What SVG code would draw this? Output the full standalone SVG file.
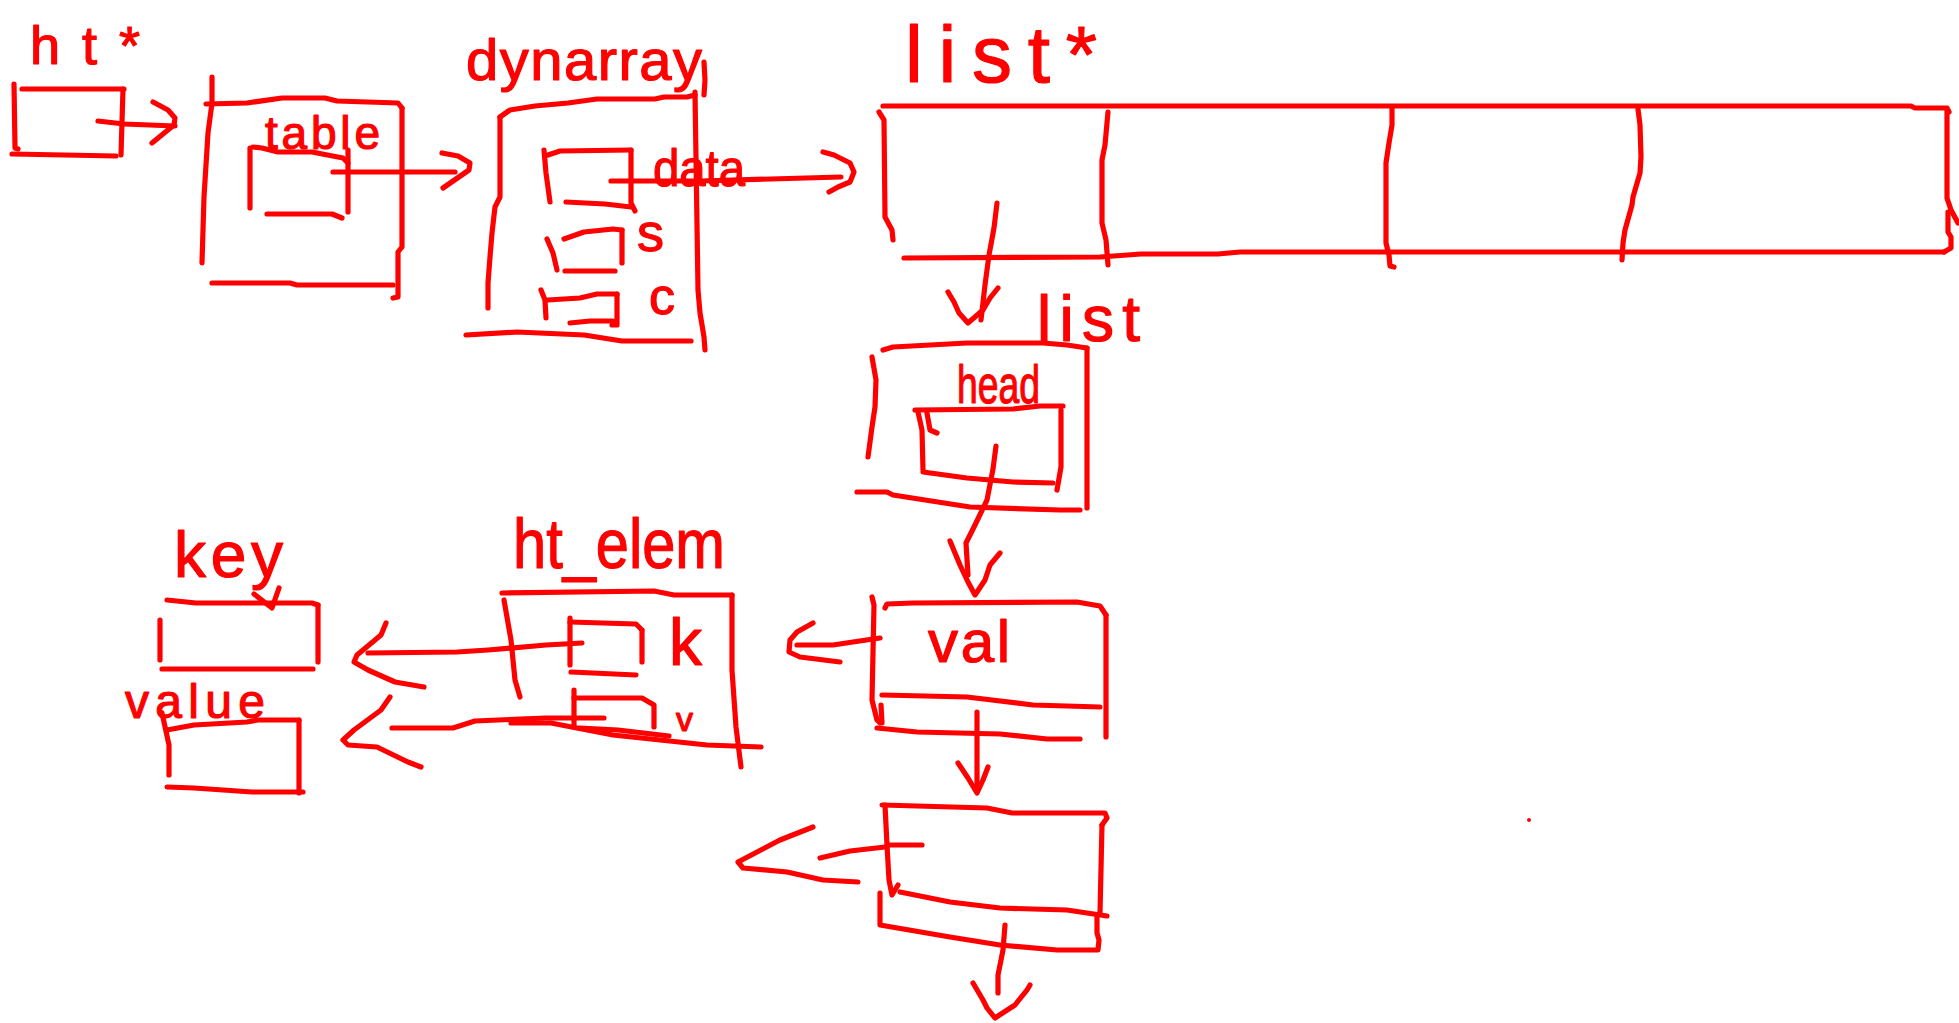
<svg xmlns="http://www.w3.org/2000/svg" width="1959" height="1023" viewBox="0 0 1959 1023">
<style>
.s{fill:none;stroke:#ff0000;stroke-width:5.2;stroke-linecap:round;stroke-linejoin:round}
.t{fill:#ff0000;font-family:"Liberation Sans",Arial,sans-serif;stroke:#ff0000;stroke-width:1.2;stroke-linejoin:round}
</style>
<rect width="1959" height="1023" fill="#ffffff"/>
<g id="ht_ptr">
<text class="t" x="30" y="64" font-size="54" textLength="110" lengthAdjust="spacing">ht*</text>
<path class="s" d="M14 84 L15 148 L18 149"/>
<path class="s" d="M22 89 L124 89"/>
<path class="s" d="M123 89 L121 155"/>
<path class="s" d="M12 154 L116 156"/>
</g>
<g id="table">
<text class="t" x="265" y="149" font-size="46" textLength="115" lengthAdjust="spacing">table</text>
<path class="s" d="M212 77 L212 103 L208 133 L204 197 L202 263"/>
<path class="s" d="M206 104 L247 103 L282 98 L325 98 L337 101 L398 103 L402 108"/>
<path class="s" d="M402 108 L402 247 L398 252 L398 297 L393 298"/>
<path class="s" d="M212 283 L290 283 L297 285 L393 285"/>
<path class="s" d="M250 148 L250 208"/>
<path class="s" d="M253 147 L262 148 L278 152 L312 152 L343 158 L348 163"/>
<path class="s" d="M348 150 L348 212"/>
<path class="s" d="M267 214 L332 214 L342 218"/>
</g>
<g id="dynarray">
<text class="t" x="466" y="80" font-size="58" textLength="236" lengthAdjust="spacing">dynarray</text>
<path class="s" d="M704 62 L705 80 L704 95"/>
<path class="s" d="M500 117 L500 197 L495 207 L492 233 L490 257 L488 283 L488 308"/>
<path class="s" d="M500 117 L510 110 L535 106 L568 103 L597 99 L655 99 L664 97 L687 97 L695 95"/>
<path class="s" d="M695 92 L698 290 L700 313 L704 337 L705 350"/>
<path class="s" d="M466 335 L517 332 L584 335 L622 341 L691 341"/>
<path class="s" d="M544 150 L546 173 L550 202"/>
<path class="s" d="M548 155 L560 151 L631 150"/>
<path class="s" d="M631 150 L631 203 L635 211"/>
<path class="s" d="M566 202 L605 204 L631 207"/>
<text class="t" x="653" y="186" font-size="52" textLength="92" lengthAdjust="spacingAndGlyphs">data</text>
<path class="s" d="M564 239 L584 232 L613 229 L622 230"/>
<path class="s" d="M622 230 L622 263"/>
<path class="s" d="M565 271 L615 271"/>
<path class="s" d="M547 239 L553 253 L557 270"/>
<text class="t" x="637" y="251" font-size="54">s</text>
<path class="s" d="M541 290 L545 300 L546 318"/>
<path class="s" d="M548 300 L580 298 L597 294 L617 294"/>
<path class="s" d="M617 294 L617 325 L612 325"/>
<path class="s" d="M570 323 L590 321 L613 321"/>
<text class="t" x="649" y="314" font-size="52">c</text>
</g>
<g id="list_array">
<text class="t" x="905" y="82" font-size="80" textLength="192" lengthAdjust="spacing">list*</text>
<path class="s" d="M883 106 L1911 106 L1915 108 L1947 108 L1949 112"/>
<path class="s" d="M1947 110 L1947 198 L1951 210 L1958 223"/>
<path class="s" d="M1948 212 L1948 232 L1951 237 L1951 248 L1944 252"/>
<path class="s" d="M904 258 L1100 257 L1141 254 L1218 254 L1240 252 L1944 252"/>
<path class="s" d="M879 112 L884 120 L885 217 L892 230 L893 240"/>
<path class="s" d="M1108 112 L1105 145 L1102 160 L1102 223 L1106 240 L1108 265"/>
<path class="s" d="M1392 107 L1392 125 L1389 143 L1386 163 L1386 243 L1389 255 L1390 266 L1394 267"/>
<path class="s" d="M1638 109 L1640 125 L1641 157 L1640 173 L1633 197 L1632 205 L1625 230 L1623 243 L1622 260"/>
</g>
<g id="list">
<text class="t" x="1037" y="341" font-size="64" textLength="103" lengthAdjust="spacing">list</text>
<path class="s" d="M883 350 L893 347 L967 343 L1043 343 L1067 345 L1087 348"/>
<path class="s" d="M1087 348 L1087 508"/>
<path class="s" d="M857 492 L887 492 L893 495 L970 507 L1060 510 L1080 510"/>
<path class="s" d="M872 357 L876 380 L875 407 L872 427 L868 457"/>
<text class="t" x="957" y="403" font-size="54" textLength="83" lengthAdjust="spacingAndGlyphs">head</text>
<path class="s" d="M915 410 L1013 409 L1040 406 L1063 406"/>
<path class="s" d="M1061 410 L1061 467 L1057 490"/>
<path class="s" d="M923 472 L967 478 L1013 482 L1053 483"/>
<path class="s" d="M918 412 L922 430 L923 470"/>
<path class="s" d="M927 413 L930 430 L937 433"/>
</g>
<g id="val_node">
<text class="t" x="928" y="662" font-size="60" textLength="82" lengthAdjust="spacing">val</text>
<path class="s" d="M885 608 L887 604 L913 603 L1077 602 L1100 606 L1106 615"/>
<path class="s" d="M1106 615 L1106 737"/>
<path class="s" d="M872 597 L874 605 L872 700 L877 720 L880 723"/>
<path class="s" d="M881 705 L882 723"/>
<path class="s" d="M882 695 L967 697 L1033 705 L1100 707"/>
<path class="s" d="M877 728 L917 732 L1000 734 L1047 739 L1080 739"/>
</g>
<g id="next_node">
<path class="s" d="M882 805 L987 808 L1012 813 L1105 813 L1107 818 L1102 825"/>
<path class="s" d="M1102 825 L1100 913"/>
<path class="s" d="M885 805 L887 845 L889 880 L892 895 L898 885"/>
<path class="s" d="M900 892 L950 902 L1000 908 L1067 910 L1107 916"/>
<path class="s" d="M880 893 L880 925 L950 937 L1000 945 L1057 950 L1098 950 L1099 940 L1097 933 L1097 916"/>
<path class="s" d="M887 845 L922 845"/>
</g>
<g id="ht_elem">
<text class="t" x="513" y="568" font-size="70" textLength="212" lengthAdjust="spacingAndGlyphs">ht_elem</text>
<path class="s" d="M502 593 L654 591 L674 595 L732 595"/>
<path class="s" d="M732 595 L732 670 L736 727 L741 767"/>
<path class="s" d="M504 600 L511 640 L515 680 L520 697"/>
<path class="s" d="M511 723 L551 723 L613 735 L707 745 L761 747"/>
<path class="s" d="M580 728 L618 730 L669 736"/>
<path class="s" d="M570 618 L570 665"/>
<path class="s" d="M570 622 L636 624 L642 630"/>
<path class="s" d="M642 630 L642 662"/>
<path class="s" d="M571 672 L636 675"/>
<text class="t" x="669" y="665" font-size="66">k</text>
<path class="s" d="M574 690 L574 727"/>
<path class="s" d="M574 698 L642 698 L654 705 L654 727"/>
<text class="t" x="676" y="731" font-size="34">v</text>
</g>
<g id="key">
<text class="t" x="174" y="577" font-size="64" textLength="109" lengthAdjust="spacing">key</text>
<path class="s" d="M279 588 L272 608 L254 594"/>
<path class="s" d="M167 600 L196 603 L312 603 L318 605"/>
<path class="s" d="M318 605 L318 662"/>
<path class="s" d="M160 620 L160 660"/>
<path class="s" d="M162 669 L313 669"/>
</g>
<g id="value">
<text class="t" x="125" y="718" font-size="48" textLength="140" lengthAdjust="spacing">value</text>
<path class="s" d="M167 730 L194 725 L247 722 L258 720 L299 720"/>
<path class="s" d="M299 720 L299 793"/>
<path class="s" d="M162 713 L169 745 L169 775"/>
<path class="s" d="M167 787 L194 788 L252 792 L303 792"/>
</g>
<g id="connectors">
<path class="s" d="M98 121 L124 124 L175 126"/>
<path class="s" d="M153 102 L168 110 L175 118 L174 125 L152 143"/>
<path class="s" d="M333 172 L455 172"/>
<path class="s" d="M442 153 L458 156 L470 163 L469 170 L443 188"/>
<path class="s" d="M611 181 L700 181 L841 177"/>
<path class="s" d="M823 152 L834 155 L850 163 L854 172 L850 182 L838 187 L829 192"/>
<path class="s" d="M997 203 L994 228 L989 255 L985 285 L981 320"/>
<path class="s" d="M948 292 L954 302 L959 313 L968 323 L983 310 L990 298 L998 288"/>
<path class="s" d="M996 446 L993 469 L987 500 L975 525 L966 543 L968 575"/>
<path class="s" d="M950 541 L960 565 L968 582 L975 595 L985 580 L990 565 L1000 553"/>
<path class="s" d="M880 638 L853 642 L833 645 L797 645"/>
<path class="s" d="M813 623 L797 632 L790 640 L789 652 L800 657 L840 662"/>
<path class="s" d="M977 712 L977 790"/>
<path class="s" d="M958 763 L968 778 L977 793 L983 780 L988 767"/>
<path class="s" d="M885 847 L850 851 L820 858"/>
<path class="s" d="M813 827 L780 840 L738 862 L743 868 L787 872 L823 880 L858 882"/>
<path class="s" d="M1005 925 L1003 950 L998 975 L998 993"/>
<path class="s" d="M973 983 L983 1000 L987 1008 L995 1018 L1015 1005 L1027 990 L1030 985"/>
<path class="s" d="M582 643 L546 645 L488 650 L457 652 L368 653"/>
<path class="s" d="M386 623 L381 635 L357 655 L354 662 L368 670 L395 682 L424 687"/>
<path class="s" d="M604 718 L546 718 L475 721 L453 728 L392 728"/>
<path class="s" d="M390 697 L381 710 L354 730 L343 740 L348 745 L377 747 L408 762 L421 767"/>
</g>
<circle cx="1529" cy="820" r="2" fill="#ff0000"/>
</svg>
